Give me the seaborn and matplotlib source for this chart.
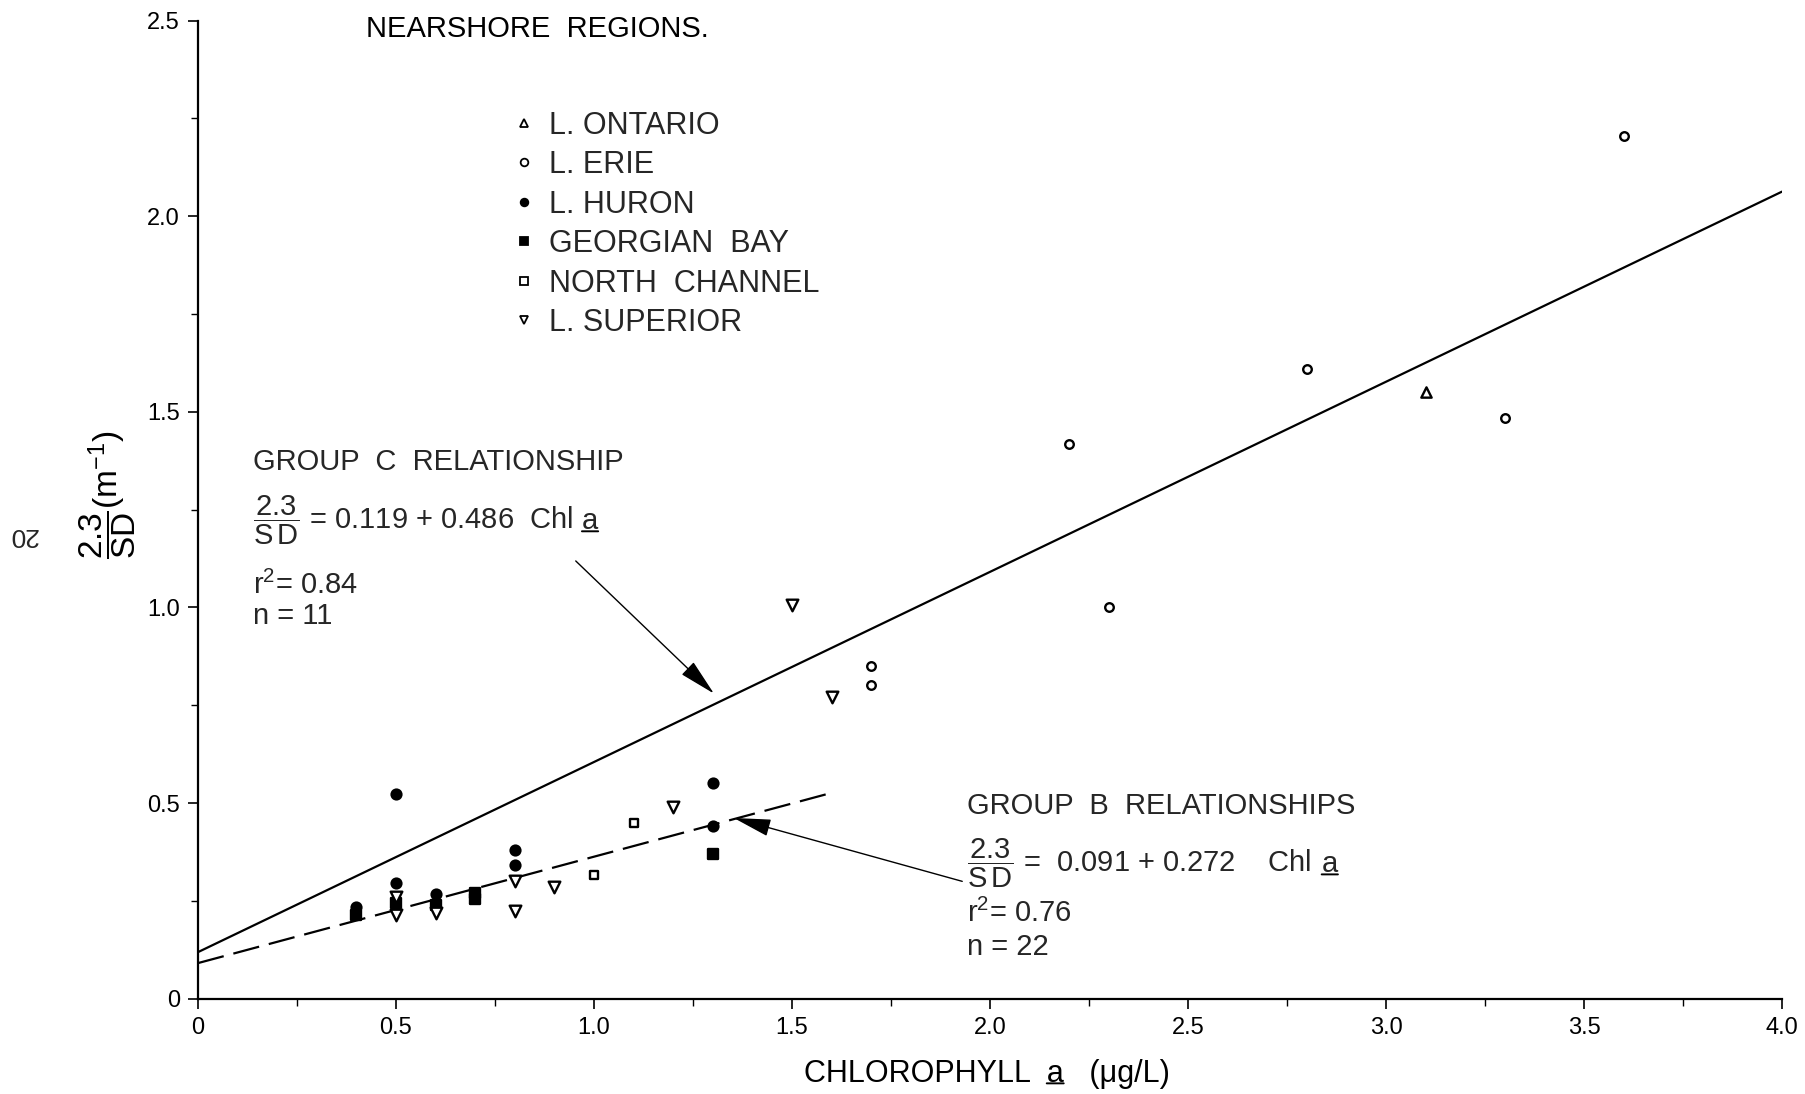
import matplotlib
matplotlib.use("Agg")
import matplotlib.pyplot as plt
from matplotlib.lines import Line2D
from matplotlib.ticker import FixedLocator, FixedFormatter, MultipleLocator
import numpy as np
import pandas as pd
import seaborn as sns

# ---------------- data ----------------
ontario_x = [3.1]
ontario_y = [1.55]
erie_x = [3.6, 2.8, 3.3, 2.2, 2.3, 1.7, 1.7]
erie_y = [2.205, 1.61, 1.484, 1.419, 1.0, 0.851, 0.801]
huron_x = [0.4, 0.5, 0.5, 0.6, 0.8, 0.8, 1.3, 1.3]
huron_y = [0.235, 0.524, 0.295, 0.267, 0.38, 0.342, 0.551, 0.442]
georgian_x = [0.4, 0.5, 0.6, 0.7, 0.7, 1.3]
georgian_y = [0.214, 0.245, 0.24, 0.255, 0.27, 0.371]
north_x = [1.0, 1.1]
north_y = [0.315, 0.45]
superior_x = [0.5, 0.5, 0.6, 0.8, 0.8, 0.9, 1.2, 1.5, 1.6]
superior_y = [0.259, 0.214, 0.22, 0.30, 0.225, 0.286, 0.489, 1.007, 0.771]

lake_names = ["L. ONTARIO", "L. ERIE", "L. HURON", "GEORGIAN  BAY",
              "NORTH  CHANNEL", "L. SUPERIOR"]

# regression relationships (intercept, slope, x-range)
groupC_coef = [0.119, 0.486]
groupC_xrange = [0.0, 4.0]
groupB_coef = [0.091, 0.272]
groupB_xrange = [0.0, 1.6]

xticks = [0, 0.5, 1.0, 1.5, 2.0, 2.5, 3.0, 3.5, 4.0]
xticklabels = ["0", "0.5", "1.0", "1.5", "2.0", "2.5", "3.0", "3.5", "4.0"]
yticks = [0, 0.5, 1.0, 1.5, 2.0, 2.5]
yticklabels = ["0", "0.5", "1.0", "1.5", "2.0", "2.5"]

# ---------------- style ----------------
sns.set_theme(style="ticks")
plt.rcParams["font.family"] = ["Liberation Sans", "DejaVu Sans"]
plt.rcParams["mathtext.fontset"] = "custom"
plt.rcParams["mathtext.rm"] = "Liberation Sans"
plt.rcParams["mathtext.it"] = "Liberation Sans"
plt.rcParams["mathtext.bf"] = "Liberation Sans"

fig = plt.figure(figsize=(18.06, 10.94), dpi=100)
ax = fig.add_axes([0.1096, 0.0871, 0.8771, 0.894])

styles = [
    (ontario_x, ontario_y, "^", "white", 55),
    (erie_x, erie_y, "o", "white", 38),
    (huron_x, huron_y, "o", "black", 50),
    (georgian_x, georgian_y, "s", "black", 50),
    (north_x, north_y, "s", "white", 40),
    (superior_x, superior_y, "v", "white", 70),
]
for (xs, ys, mk, fc, s), name in zip(styles, lake_names):
    df = pd.DataFrame({"chl": xs, "val": ys})
    sns.scatterplot(data=df, x="chl", y="val", marker=mk, s=s,
                    facecolor=fc, edgecolor="black", linewidth=1.7,
                    ax=ax, zorder=4, legend=False)

# regression lines
xc = np.array(groupC_xrange)
sns.lineplot(x=xc, y=groupC_coef[0] + groupC_coef[1] * xc, color="black",
             lw=1.6, ax=ax, zorder=3)
xb = np.array(groupB_xrange)
lb = ax.plot(xb, groupB_coef[0] + groupB_coef[1] * xb, color="black",
             lw=1.6, zorder=3)[0]
lb.set_dashes((12, 4.5))

# axes formatting
ax.set_xlim(0, 4.0)
ax.set_ylim(0, 2.5)
sns.despine(ax=ax)
for sp in ["left", "bottom"]:
    ax.spines[sp].set_linewidth(1.6)
    ax.spines[sp].set_color("black")
ax.xaxis.set_major_locator(FixedLocator(xticks))
ax.xaxis.set_major_formatter(FixedFormatter(xticklabels))
ax.yaxis.set_major_locator(FixedLocator(yticks))
ax.yaxis.set_major_formatter(FixedFormatter(yticklabels))
ax.xaxis.set_minor_locator(MultipleLocator(0.25))
ax.yaxis.set_minor_locator(MultipleLocator(0.25))
ax.tick_params(axis="both", which="major", direction="out", length=7,
               width=1.2, color="black", labelsize=17, labelcolor="black", pad=6)
ax.tick_params(axis="both", which="minor", direction="out", length=5,
               width=1.0, color="black")
ax.grid(False)

XLABEL = "CHLOROPHYLL  a   (\u03bcg/L)"
XL_FS = 22
ax.set_xlabel(XLABEL, fontsize=XL_FS, color="black")
ax.xaxis.set_label_coords(0.498, -0.062)
ax.set_ylabel(r"$\dfrac{2.3}{\mathrm{SD}}(\mathrm{m}^{-1})$", fontsize=24,
              color="black")
ax.yaxis.set_label_coords(-0.038, 0.515)

# title text
ax.text(0.425, 2.48, "NEARSHORE  REGIONS.", fontsize=21, va="center",
        ha="left", color="black")

# legend
handles = [
    Line2D([], [], ls="none", marker="^", ms=6, mfc="white", mec="black", mew=1.3),
    Line2D([], [], ls="none", marker="o", ms=5.5, mfc="white", mec="black", mew=1.3),
    Line2D([], [], ls="none", marker="o", ms=5.5, mfc="black", mec="black", mew=1.3),
    Line2D([], [], ls="none", marker="s", ms=6, mfc="black", mec="black", mew=1.3),
    Line2D([], [], ls="none", marker="s", ms=5.5, mfc="white", mec="black", mew=1.3),
    Line2D([], [], ls="none", marker="v", ms=6, mfc="white", mec="black", mew=1.3),
]
ax.legend(handles, lake_names, loc="upper left",
          bbox_to_anchor=(0.785, 2.27), bbox_transform=ax.transData,
          frameon=False, fontsize=22, handlelength=1.0, handletextpad=0.3,
          labelspacing=0.31, borderpad=0, borderaxespad=0)

FS = 21
ARROW = dict(arrowstyle="-|>,head_length=1.3,head_width=0.3",
             color="black", lw=1.0, mutation_scale=18, shrinkA=0, shrinkB=0)


def equation(x, y, body):
    """Fraction + body text, followed by an underlined 'a'."""
    t1 = ax.text(x, y, r"$\dfrac{2.3}{\mathrm{S\,D}}$" + body, fontsize=FS,
                 va="center", ha="left")
    t2 = ax.annotate("a", xy=(1, 0.5), xycoords=t1, xytext=(6, 0),
                     textcoords="offset points", fontsize=FS, va="center",
                     ha="left")
    ax.annotate("", xy=(1.0, 0.12), xycoords=t2, xytext=(0.0, 0.12),
                textcoords=t2,
                arrowprops=dict(arrowstyle="-", lw=1.4, color="black",
                                shrinkA=0, shrinkB=0))


# Group C annotation
gx = 0.14
ax.text(gx, 1.372, "GROUP  C  RELATIONSHIP", fontsize=FS, va="center", ha="left")
equation(gx, 1.222, " = 0.119 + 0.486  Chl")
ax.text(gx, 1.057, r"r$^2$= 0.84", fontsize=FS, va="center", ha="left")
ax.text(gx, 0.978, "n = 11", fontsize=FS, va="center", ha="left")
ax.annotate("", xy=(1.303, 0.78), xytext=(0.954, 1.119), arrowprops=ARROW)

# Group B annotation
bx = 1.943
ax.text(bx, 0.492, "GROUP  B  RELATIONSHIPS", fontsize=FS, va="center", ha="left")
equation(bx, 0.345, " =  0.091 + 0.272    Chl ")
ax.text(bx, 0.218, r"r$^2$= 0.76", fontsize=FS, va="center", ha="left")
ax.text(bx, 0.133, "n = 22", fontsize=FS, va="center", ha="left")
ax.annotate("", xy=(1.353, 0.462), xytext=(1.93, 0.30), arrowprops=ARROW)

# page number
fig.text(0.0127, 0.511, "20", rotation=180, fontsize=19, ha="center",
         va="center")

# underline the 'a' of the x-axis label
fig.canvas.draw()
renderer = fig.canvas.get_renderer()


def width_of(s):
    t = fig.text(0, 0, s, fontsize=XL_FS)
    w = t.get_window_extent(renderer).width
    t.remove()
    return w


w_full = width_of(XLABEL)
w_to_a = width_of("CHLOROPHYLL  a")
w_a = width_of("a")
x0 = (w_to_a - w_a) / w_full
x1 = w_to_a / w_full
ax.annotate("", xy=(x1, 0.2), xycoords=ax.xaxis.label, xytext=(x0, 0.2),
            textcoords=ax.xaxis.label,
            arrowprops=dict(arrowstyle="-", lw=1.4, color="black",
                            shrinkA=0, shrinkB=0))

fig.savefig("out.png", dpi=100, facecolor="white")
